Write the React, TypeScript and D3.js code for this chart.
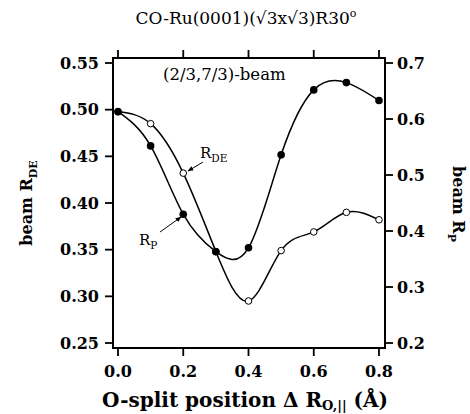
import React from "react";
import * as d3 from "d3";

const xPositions = [0.0, 0.1, 0.2, 0.3, 0.4, 0.5, 0.6, 0.7, 0.8];
// open circles, left axis (R_DE)
const rDE = [0.498, 0.485, 0.432, 0.348, 0.295, 0.349, 0.369, 0.39, 0.382];
// filled circles, right axis (R_P)
const rP = [0.613, 0.552, 0.43, 0.363, 0.37, 0.536, 0.652, 0.665, 0.633];
const xTicks = [0.0, 0.2, 0.4, 0.6, 0.8];
const leftTicks = [0.25, 0.3, 0.35, 0.4, 0.45, 0.5, 0.55];
const rightTicks = [0.2, 0.3, 0.4, 0.5, 0.6, 0.7];

const W = 470;
const H = 414;
const serif = "'DejaVu Serif', serif";

export default function App() {
  const x = d3.scaleLinear().domain([0, 0.8]).range([118, 379]);
  const yL = d3.scaleLinear().domain([0.25, 0.55]).range([343, 63]);
  const yR = d3.scaleLinear().domain([0.2, 0.7]).range([343, 63]);
  const boxL = 113, boxR = 385, boxT = 58, boxB = 348;

  const lineDE = d3
    .line<number>()
    .x((_, i) => x(xPositions[i]))
    .y((d) => yL(d))
    .curve(d3.curveNatural);
  const lineP = d3
    .line<number>()
    .x((_, i) => x(xPositions[i]))
    .y((d) => yR(d))
    .curve(d3.curveNatural);

  return (
    <svg
      width={W}
      height={H}
      style={{ position: "absolute", left: 0, top: 0, background: "#fff" }}
    >
      <defs>
        <marker id="ah" viewBox="0 0 10 10" refX="9" refY="5" markerWidth="6" markerHeight="6" orient="auto">
          <path d="M0,1 L10,5 L0,9 z" fill="#000" />
        </marker>
      </defs>
      {/* title */}
      <text x={246} y={24} textAnchor="middle" fontFamily={serif} fontSize={17}>
        CO-Ru(0001)(√3x√3)R30
        <tspan dy={-7} fontSize={11}>o</tspan>
      </text>

      {/* box */}
      <rect x={boxL} y={boxT} width={boxR - boxL} height={boxB - boxT} fill="none" stroke="#000" strokeWidth={2} />

      {/* x ticks top and bottom */}
      {xTicks.map((t) => (
        <g key={"xt" + t}>
          <line x1={x(t)} x2={x(t)} y1={boxT} y2={boxT - 8} stroke="#000" strokeWidth={1.8} />
          <line x1={x(t)} x2={x(t)} y1={boxB} y2={boxB + 8} stroke="#000" strokeWidth={1.8} />
          <text x={x(t)} y={377} textAnchor="middle" fontFamily={serif} fontWeight="bold" fontSize={16}>
            {t.toFixed(1)}
          </text>
        </g>
      ))}

      {/* left ticks */}
      {leftTicks.map((t) => (
        <g key={"lt" + t}>
          <line x1={boxL} x2={boxL - 8} y1={yL(t)} y2={yL(t)} stroke="#000" strokeWidth={1.8} />
          <text x={boxL - 14} y={yL(t) + 5.5} textAnchor="end" fontFamily={serif} fontWeight="bold" fontSize={16}>
            {t.toFixed(2)}
          </text>
        </g>
      ))}

      {/* right ticks */}
      {rightTicks.map((t) => (
        <g key={"rt" + t}>
          <line x1={boxR} x2={boxR + 8} y1={yR(t)} y2={yR(t)} stroke="#000" strokeWidth={1.8} />
          <text x={boxR + 12} y={yR(t) + 5.5} textAnchor="start" fontFamily={serif} fontWeight="bold" fontSize={16}>
            {t.toFixed(1)}
          </text>
        </g>
      ))}

      {/* axis titles */}
      <text x={102} y={407} fontFamily={serif} fontWeight="bold" fontSize={20}>
        O-split position Δ R
        <tspan dy={3} fontSize={13}>O,||</tspan>
        <tspan dy={-3}> (Å)</tspan>
      </text>
      <text transform="translate(32,203) rotate(-90)" textAnchor="middle" fontFamily={serif} fontWeight="bold" fontSize={16}>
        beam  R
        <tspan dy={5} fontSize={11}>DE</tspan>
      </text>
      <text transform="translate(453,204) rotate(90)" textAnchor="middle" fontFamily={serif} fontWeight="bold" fontSize={16}>
        beam  R
        <tspan dy={5} fontSize={11}>P</tspan>
      </text>

      {/* annotation */}
      <text x={163} y={80} fontFamily={serif} fontSize={16.5}>(2/3,7/3)-beam</text>
      <text x={200} y={158} fontFamily={serif} fontSize={15}>
        R<tspan dy={4} fontSize={10.5}>DE</tspan>
      </text>
      <line x1={203} y1={162} x2={188} y2={171} stroke="#000" strokeWidth={1} markerEnd="url(#ah)" />
      <text x={139} y={245} fontFamily={serif} fontSize={15}>
        R<tspan dy={4} fontSize={10.5}>P</tspan>
      </text>
      <line x1={160} y1={232} x2={181} y2={217} stroke="#000" strokeWidth={1} markerEnd="url(#ah)" />

      {/* curves */}
      <path d={lineDE(rDE) || ""} fill="none" stroke="#000" strokeWidth={1.5} />
      <path d={lineP(rP) || ""} fill="none" stroke="#000" strokeWidth={1.5} />

      {/* points */}
      {rDE.map((v, i) => (
        <circle key={"o" + i} cx={x(xPositions[i])} cy={yL(v)} r={3.3} fill="#fff" stroke="#000" strokeWidth={1} />
      ))}
      {rP.map((v, i) => (
        <circle key={"f" + i} cx={x(xPositions[i])} cy={yR(v)} r={3.8} fill="#000" />
      ))}
    </svg>
  );
}
